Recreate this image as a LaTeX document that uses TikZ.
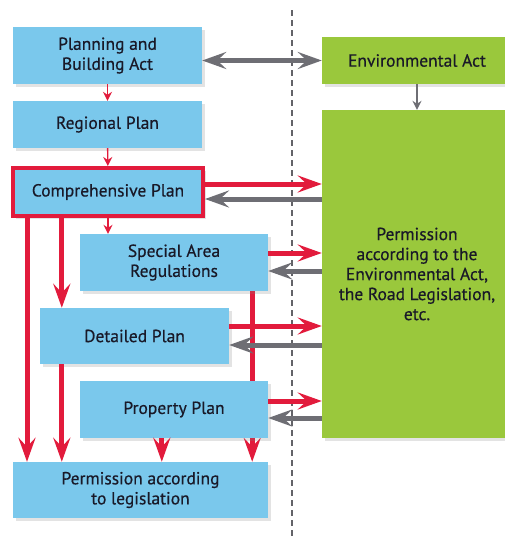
\documentclass[tikz,border=0pt]{standalone}
\usepackage{fontspec}
\setmainfont{PT Sans}[FakeBold=0.5]
\usetikzlibrary{arrows.meta,shadows,backgrounds}
\definecolor{skyblue}{RGB}{122,200,236}
\definecolor{lawngreen}{RGB}{154,200,60}
\definecolor{planred}{RGB}{226,27,60}
\definecolor{arrowgray}{RGB}{110,110,116}
\definecolor{ink}{RGB}{25,25,40}

\begin{document}
\begin{tikzpicture}[x=1pt,y=-1pt,
    font=\fontsize{17.5}{20}\selectfont,
    >={Stealth[length=24pt,width=17pt,inset=9pt]},
    plan/.style={fill=skyblue,text=ink,align=center,inner sep=0pt,
        drop shadow={opacity=0.22,shadow xshift=3pt,shadow yshift=-3pt}},
    law/.style={plan,fill=lawngreen},
    redline/.style={draw=planred,line width=5pt},
    grayline/.style={draw=arrowgray,line width=5pt},
    small/.style={line width=1.4pt,-{Stealth[length=9pt,width=9pt,inset=3pt]}}]
        \useasboundingbox (0,0) rectangle (504,536);
        \draw [arrowgray!90!black,line width=1.3pt,dash pattern=on 6pt off 4pt] (292,10) -- (292,536);
        \node [plan,minimum width=189pt,minimum height=57pt] (pb) at (107.5,55.5) {Planning and\\Building Act};
        \node [plan,minimum width=189pt,minimum height=47pt] (rp) at (107.5,124.5) {Regional Plan};
        \node [plan,draw=planred,line width=4pt,minimum width=190pt,minimum height=48pt] (cp) at (108,192) {Comprehensive Plan};
        \node [plan,minimum width=188pt,minimum height=57pt] (sa) at (174,262.5) {Special Area\\Regulations};
        \node [plan,minimum width=189pt,minimum height=56pt] (dp) at (134.5,336) {Detailed Plan};
        \node [plan,minimum width=188pt,minimum height=57pt] (pp) at (174,409.5) {Property Plan};
        \node [plan,minimum width=255pt,minimum height=56pt] (pl) at (140.5,490) {Permission according\\to legislation};
        \node [law,minimum width=190pt,minimum height=47pt] (ea) at (417,60.5) {Environmental Act};
        \node [law,minimum width=190pt,minimum height=328pt] (pe) at (417,274) {Permission\\according to the\\Environmental Act,\\the Road Legislation,\\etc.};
        % down the plan chain
        \draw [small,planred] (pb) -- (rp);
        \draw [small,planred] (rp) -- (cp);
        \draw [small,planred] (cp.south) -- (cp.south |- sa.north);
        \draw [small,arrowgray] (ea) -- (pe);
        \draw [grayline,<->] (pb.east |- ea.west) -- (ea.west);
        % plans to permissions
        \draw [redline,->] ([xshift=16pt]cp.south west) -- ([xshift=16pt]cp.south west |- pl.north);
        \draw [redline,->] ([xshift=22pt]dp.north west |- cp.south) -- ([xshift=22pt]dp.north west);
        \draw [redline,->] ([xshift=22pt]dp.south west) -- ([xshift=22pt]dp.south west |- pl.north);
        \draw [redline,->] ([xshift=82pt]pp.south west) -- ([xshift=82pt]pp.south west |- pl.north);
        \begin{pgfonlayer}{background}
        \draw [redline,->] ([xshift=-16pt]sa.south east) -- ([xshift=-16pt]sa.south east |- pl.north);
        \end{pgfonlayer}
        % to and from the other legislation
        \draw [redline,->] ([yshift=8pt]cp.east) -- ([yshift=8pt]cp.east -| pe.west);
        \draw [grayline,->] ([yshift=-7pt]cp.east -| pe.west) -- ([yshift=-7pt]cp.east);
        \draw [redline,->] ([yshift=9.5pt]sa.east) -- ([yshift=9.5pt]sa.east -| pe.west);
        \draw [grayline,->] ([yshift=-8.5pt]sa.east -| pe.west) -- ([yshift=-8.5pt]sa.east);
        \draw [redline,->] ([yshift=10pt]dp.east) -- ([yshift=10pt]dp.east -| pe.west);
        \draw [grayline,->] ([yshift=-9pt]dp.east -| pe.west) -- ([yshift=-9pt]dp.east);
        \draw [redline,->] ([yshift=8.5pt]pp.east) -- ([yshift=8.5pt]pp.east -| pe.west);
        \draw [grayline,->] ([yshift=-8.5pt]pp.east -| pe.west) -- ([yshift=-8.5pt]pp.east);
    \end{tikzpicture}
\end{document}
